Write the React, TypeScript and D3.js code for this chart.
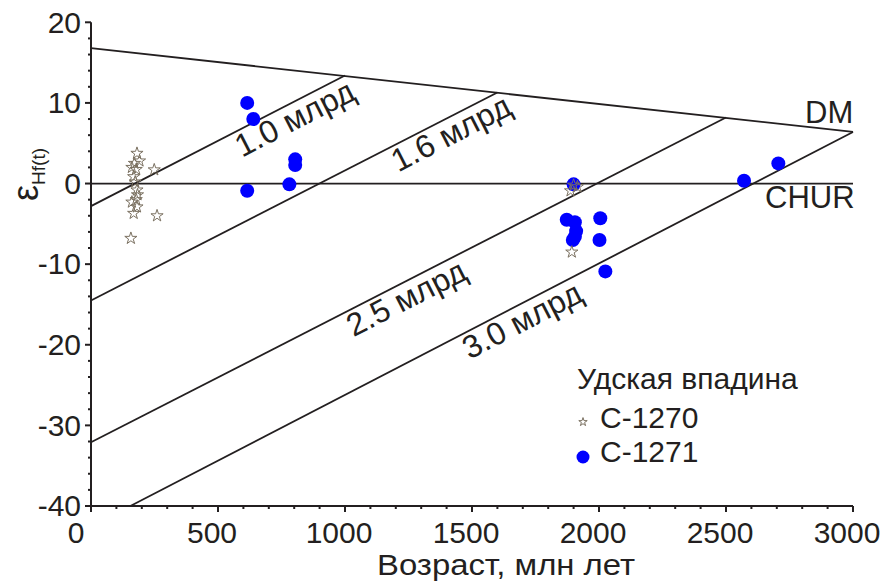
import * as d3 from 'd3';

// ---- data ----
const c1270Age = [181, 191, 161, 178, 249, 171, 168, 174, 181, 183, 178, 161, 181, 168, 260, 157, 1900, 1915, 1888, 1893];
const c1270Eps = [3.75, 2.8, 2.0, 1.75, 1.7, 2.5, 0.85, 0.2, -0.8, -1.4, -2.0, -2.3, -2.9, -3.7, -4.0, -6.8, -0.2, -0.4, -0.9, -8.5];

const c1271Age = [615, 639, 615, 781, 804, 804, 1873, 1905, 1910, 1897, 1905, 1900, 2005, 2002, 2025, 2571, 2706];
const c1271Eps = [10.0, 8.0, -0.9, -0.1, 3.0, 2.3, -4.5, -4.8, -5.9, -7.0, -6.6, -0.1, -4.3, -7.0, -10.9, 0.35, 2.5];

// reference lines: DM, CHUR
const dmAge = [0, 3000];
const dmEps = [16.8, 6.4];
const churAge = [0, 3000];
const churEps = [0, 0];

// crustal model age lines (start -> end on DM)
const modelLabels = ['1.0 млрд', '1.6 млрд', '2.5 млрд', '3.0 млрд'];
const modelStartAge = [0, 0, 0, 155];
const modelStartEps = [-2.8, -14.5, -32.1, -40];
const modelEndAge = [1000, 1600, 2500, 3000];
const modelEndEps = [13.4, 11.3, 8.2, 6.4];
const modelLabelAge = [775, 1390, 1214, 1670];

const xTickLabels = ['0', '500', '1000', '1500', '2000', '2500', '3000'];
const yTickLabels = ['20', '10', '0', '-10', '-20', '-30', '-40'];

const FONT = "'Liberation Sans', Arial, Helvetica, sans-serif";
const INK = '#231f20';
const STAR = '#7a7060';

const App = () => {
  const width = 896;
  const height = 581;

  const x = d3.scaleLinear().domain([0, 3000]).range([91, 853]);
  const y = d3.scaleLinear().domain([-40, 20]).range([506, 22.3]);

  const minorX = d3.range(0, 3001, 100);
  const minorY = d3.range(-40, 21, 2);

  const line = d3
    .line<[number, number]>()
    .x((d) => x(d[0]))
    .y((d) => y(d[1]));

  const star = d3.symbol().type(d3.symbolStar).size(46)();
  const starSmall = d3.symbol().type(d3.symbolStar).size(22)();

  return (
    <svg
      width={width}
      height={height}
      style={{ position: 'absolute', left: 0, top: 0, background: '#fff' }}
      fontFamily={FONT}
    >
      {/* reference lines */}
      <path d={line(dmAge.map((a, i) => [a, dmEps[i]]))!} stroke={INK} strokeWidth={1.8} fill="none" />
      <path d={line(churAge.map((a, i) => [a, churEps[i]]))!} stroke={INK} strokeWidth={1.8} fill="none" />
      {modelLabels.map((lab, i) => {
        const x0 = x(modelStartAge[i]);
        const y0 = y(modelStartEps[i]);
        const x1 = x(modelEndAge[i]);
        const y1 = y(modelEndEps[i]);
        const ang = (Math.atan2(y1 - y0, x1 - x0) * 180) / Math.PI;
        const f = (modelLabelAge[i] - modelStartAge[i]) / (modelEndAge[i] - modelStartAge[i]);
        const lx = x0 + (x1 - x0) * f;
        const ly = y0 + (y1 - y0) * f;
        return (
          <g key={lab}>
            <path d={`M${x0},${y0}L${x1},${y1}`} stroke={INK} strokeWidth={1.8} fill="none" />
            <text
              transform={`translate(${lx},${ly}) rotate(${ang})`}
              y={26}
              textAnchor="middle"
              fontSize={32}
              fill={INK}
            >
              {lab}
            </text>
          </g>
        );
      })}

      <text x={805} y={123} fontSize={31} fill={INK}>DM</text>
      <text x={765} y={208} fontSize={31} fill={INK}>CHUR</text>

      {/* axes */}
      <line x1={x(0)} x2={x(0)} y1={y(20)} y2={y(-40)} stroke={INK} strokeWidth={2} />
      <line x1={x(0)} x2={x(3000)} y1={y(-40)} y2={y(-40)} stroke={INK} strokeWidth={2} />
      {minorX.map((v) => (
        <line
          key={'mx' + v}
          x1={x(v)}
          x2={x(v)}
          y1={y(-40)}
          y2={y(-40) + (v % 500 === 0 ? 6 : 3)}
          stroke={INK}
          strokeWidth={2}
        />
      ))}
      {minorY.map((v) => (
        <line
          key={'my' + v}
          x1={x(0)}
          x2={x(0) - (v % 10 === 0 ? 6 : 3)}
          y1={y(v)}
          y2={y(v)}
          stroke={INK}
          strokeWidth={2}
        />
      ))}
      {xTickLabels.map((t) => (
        <text
          key={'xl' + t}
          x={x(+t) - (t === '0' ? 15 : 6)}
          y={543}
          textAnchor="middle"
          fontSize={30}
          fill={INK}
        >
          {t}
        </text>
      ))}
      {yTickLabels.map((t) => (
        <text
          key={'yl' + t}
          x={81}
          y={y(+t)}
          dy="0.34em"
          textAnchor="end"
          fontSize={30}
          fill={INK}
        >
          {t}
        </text>
      ))}

      {/* axis titles */}
      <text
        x={506}
        y={575}
        textAnchor="middle"
        fontSize={30}
        textLength={258}
        lengthAdjust="spacingAndGlyphs"
        fill={INK}
      >
        Возраст, млн лет
      </text>
      <text transform="translate(38,201) rotate(-90)" fill={INK}>
        <tspan fontSize={36}>ε</tspan>
        <tspan fontSize={19} dy={7}>Hf(t)</tspan>
      </text>

      {/* C-1271 */}
      {c1271Age.map((a, i) => (
        <circle key={'c' + i} cx={x(a)} cy={y(c1271Eps[i])} r={7} fill="#0000ff" />
      ))}
      {/* C-1270 */}
      {c1270Age.map((a, i) => (
        <path
          key={'s' + i}
          d={star}
          transform={`translate(${x(a)},${y(c1270Eps[i])})`}
          fill="none"
          stroke={STAR}
          strokeWidth={1}
        />
      ))}

      {/* legend */}
      <text x={577} y={389} fontSize={30} fill={INK}>Удская впадина</text>
      <path d={starSmall} transform="translate(583,422)" fill="none" stroke={STAR} strokeWidth={1} />
      <text x={600} y={428} fontSize={30} fill={INK}>C-1270</text>
      <circle cx={583} cy={457} r={6.5} fill="#0000ff" />
      <text x={600} y={462} fontSize={30} fill={INK}>C-1271</text>
    </svg>
  );
};

export default App;
